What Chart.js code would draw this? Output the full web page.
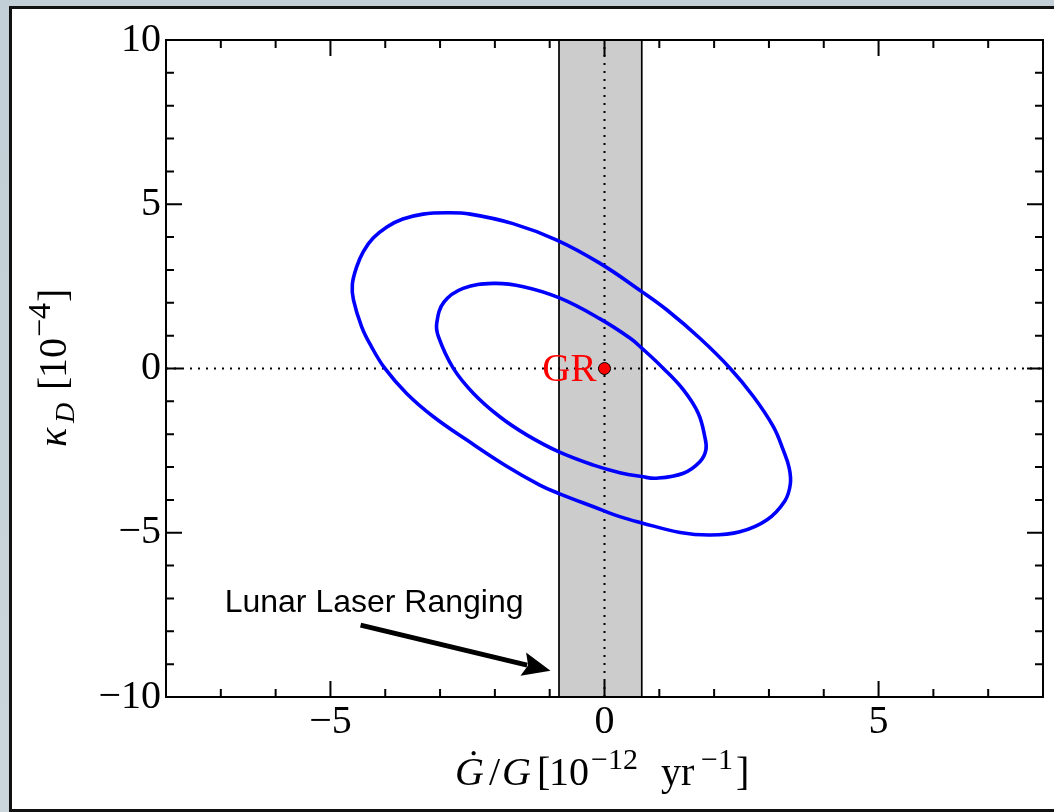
<!DOCTYPE html>
<html>
<head>
<meta charset="utf-8">
<script src="https://cdn.jsdelivr.net/npm/chart.js@4.4.0/dist/chart.umd.min.js"></script>
<style>
  html, body { margin: 0; padding: 0; }
  body { width: 1054px; height: 812px; overflow: hidden; position: relative;
         background: linear-gradient(180deg, #c2cfd6 0%, #cad6db 100%); }
  #panel { position: absolute; left: 9px; top: 6px; width: 1100px; height: 806px;
           box-sizing: border-box; border: 3px solid #111; background: #fff; }
  #wrap { position: absolute; left: 0; top: 0; width: 1054px; height: 812px; }
</style>
</head>
<body>
<div id="panel"></div>
<div id="wrap"><canvas id="c" width="1054" height="812"></canvas></div>
<script>
const SERIF = "'Liberation Serif', 'DejaVu Serif', serif";
const SANS = "'Liberation Sans', Arial, sans-serif";

// Axis ranges and labelled ticks
const xRange = [-8, 8];
const yRange = [-10, 10];
const xTickValues = [-5, 0, 5];
const yTickValues = [-10, -5, 0, 5, 10];
const minorStep = 1;

// Outer confidence contour (Gdot/G in 1e-12 / yr, kappa_D in 1e-4)
const outerGdot  = [-4.60, -4.52, -4.40, -4.22, -3.97, -3.68, -3.31, -2.88, -2.45, -1.67, -0.87, -0.08,
                    0.68, 1.14, 1.74, 2.29, 2.72, 3.08, 3.26, 3.37, 3.39, 3.29, 2.96, 2.47,
                    1.93, 1.38, 0.68, 0.28, -0.20, -0.84, -1.18, -1.80, -2.51, -3.12, -3.61, -4.01,
                    -4.26, -4.43, -4.58];
const outerKappa = [2.57, 3.10, 3.56, 3.97, 4.31, 4.55, 4.70, 4.74, 4.70, 4.41, 3.91, 3.20,
                    2.34, 1.78, 0.92, 0.01, -0.86, -1.77, -2.48, -3.03, -3.52, -4.03, -4.61, -4.97,
                    -5.07, -4.99, -4.70, -4.51, -4.21, -3.80, -3.55, -2.96, -2.18, -1.47, -0.76, 0.01,
                    0.69, 1.27, 2.09];

// Inner confidence contour
const innerGdot  = [-3.06, -2.93, -2.58, -2.03, -1.48, -0.81, -0.08, 0.47, 0.68, 1.07, 1.44, 1.71,
                    1.83, 1.85, 1.74, 1.44, 0.95, 0.68, 0.28, -0.20, -0.84, -1.42, -1.91, -2.39,
                    -2.76, -3.03];
const innerKappa = [1.39, 2.02, 2.44, 2.59, 2.49, 2.14, 1.51, 0.92, 0.62, 0.01, -0.65, -1.36,
                    -2.08, -2.48, -2.84, -3.19, -3.34, -3.29, -3.17, -2.94, -2.53, -2.02, -1.47, -0.76,
                    0.01, 0.97];

// Lunar Laser Ranging bound on Gdot/G
const lunarBand = [-0.83, 0.68];

// General relativity point
const grPoint = { x: 0, y: 0 };
const grLabel = 'GR';

// Annotation
const llrLabel = 'Lunar Laser Ranging';
const llrTextAt = { x: -6.93, y: -7.41 };
const llrArrowFrom = { x: -4.45, y: -7.81 };
const llrArrowTo = { x: -0.985, y: -9.20 };

const toPoints = (xs, ys) => xs.map((x, i) => ({ x: x, y: ys[i] }));
const fmt = v => String(v).replace('-', '\u2212');

// draws a run of text pieces; each piece is placed at an x offset from the start
function drawPieces(ctx, parts, x, y) {
  for (const p of parts) {
    ctx.font = p.font;
    ctx.fillText(p.t, x + p.at, y + (p.dy || 0));
  }
}

// closes the contour datasets into smooth loops (same mechanism the radar chart uses)
const closeLoops = {
  id: 'closeLoops',
  beforeDatasetsDraw(chart) {
    chart.data.datasets.forEach((ds, i) => {
      if (!ds.closed) return;
      const line = chart.getDatasetMeta(i).dataset;
      if (!line || typeof line.updateControlPoints !== 'function') return;
      line._loop = true;
      line._fullLoop = true;
      delete line._segments;
      line._path = undefined;
      line._pointsUpdated = false;
      line.updateControlPoints(chart.chartArea, 'x');
    });
  }
};

const decorations = {
  id: 'decorations',
  beforeDatasetsDraw(chart) {
    const { ctx, chartArea: a, scales: { x } } = chart;
    const l = x.getPixelForValue(lunarBand[0]);
    const r = x.getPixelForValue(lunarBand[1]);
    ctx.save();
    ctx.fillStyle = '#cccccc';
    ctx.fillRect(l, a.top, r - l, a.bottom - a.top);
    ctx.strokeStyle = '#000';
    ctx.lineWidth = 1.7;
    ctx.beginPath();
    ctx.moveTo(l, a.top); ctx.lineTo(l, a.bottom);
    ctx.moveTo(r, a.top); ctx.lineTo(r, a.bottom);
    ctx.stroke();
    ctx.restore();
  },
  afterDatasetsDraw(chart) {
    const { ctx, scales: { x, y } } = chart;
    ctx.save();
    // GR label
    ctx.fillStyle = '#ff0000';
    ctx.font = '39px ' + SERIF;
    ctx.textAlign = 'right';
    ctx.textBaseline = 'alphabetic';
    ctx.fillText(grLabel, x.getPixelForValue(grPoint.x) - 8, y.getPixelForValue(grPoint.y) + 12);

    // annotation text
    ctx.fillStyle = '#000';
    ctx.font = '32px ' + SANS;
    ctx.textAlign = 'left';
    ctx.fillText(llrLabel, x.getPixelForValue(llrTextAt.x), y.getPixelForValue(llrTextAt.y));

    // arrow
    const x0 = x.getPixelForValue(llrArrowFrom.x), y0 = y.getPixelForValue(llrArrowFrom.y);
    const x1 = x.getPixelForValue(llrArrowTo.x), y1 = y.getPixelForValue(llrArrowTo.y);
    const ang = Math.atan2(y1 - y0, x1 - x0);
    const c = Math.cos(ang), s = Math.sin(ang);
    const headLen = 28, headHalf = 12;
    const bx = x1 - headLen * c, by = y1 - headLen * s;
    ctx.strokeStyle = '#000';
    ctx.lineWidth = 5;
    ctx.beginPath();
    ctx.moveTo(x0, y0);
    ctx.lineTo(bx + 4 * c, by + 4 * s);
    ctx.stroke();
    ctx.beginPath();
    ctx.moveTo(x1, y1);
    ctx.lineTo(bx + headHalf * s, by - headHalf * c);
    ctx.lineTo(bx + 5 * c, by + 5 * s);
    ctx.lineTo(bx - headHalf * s, by + headHalf * c);
    ctx.closePath();
    ctx.fill();
    ctx.restore();
  },
  afterDraw(chart) {
    const { ctx, chartArea: a, scales: { x, y } } = chart;
    ctx.save();
    ctx.strokeStyle = '#000';
    ctx.lineWidth = 2;
    // inward ticks on all four sides
    const major = 16, minor = 8;
    ctx.beginPath();
    for (let v = xRange[0]; v <= xRange[1]; v += minorStep) {
      const px = x.getPixelForValue(v);
      const len = xTickValues.includes(v) ? major : minor;
      ctx.moveTo(px, a.bottom); ctx.lineTo(px, a.bottom - len);
      ctx.moveTo(px, a.top); ctx.lineTo(px, a.top + len);
    }
    for (let v = yRange[0]; v <= yRange[1]; v += minorStep) {
      const py = y.getPixelForValue(v);
      const len = yTickValues.includes(v) ? major : minor;
      ctx.moveTo(a.left, py); ctx.lineTo(a.left + len, py);
      ctx.moveTo(a.right, py); ctx.lineTo(a.right - len, py);
    }
    ctx.stroke();
    // frame
    ctx.strokeRect(a.left, a.top, a.right - a.left, a.bottom - a.top);

    // axis titles
    ctx.fillStyle = '#000';
    ctx.textAlign = 'left';
    ctx.textBaseline = 'alphabetic';
    const it = 'italic 40px ' + SERIF, rm = '40px ' + SERIF, sup = '30px ' + SERIF;
    drawPieces(ctx, [
      { t: '\u0120', font: it, at: 0 },
      { t: '/', font: rm, at: 34 },
      { t: 'G', font: it, at: 47 },
      { t: '[', font: rm, at: 82 },
      { t: '10', font: rm, at: 94 },
      { t: '\u221212', font: sup, at: 136, dy: -16 },
      { t: 'yr', font: rm, at: 206 },
      { t: '\u22121', font: sup, at: 246, dy: -16 },
      { t: ']', font: rm, at: 281 }
    ], 455, 785);

    ctx.translate(66, 447);
    ctx.rotate(-Math.PI / 2);
    drawPieces(ctx, [
      { t: '\u03ba', font: 'italic 40px ' + SERIF, at: 0 },
      { t: 'D', font: 'italic 28px ' + SERIF, at: 24, dy: 8 },
      { t: '[', font: rm, at: 57 },
      { t: '10', font: rm, at: 69 },
      { t: '\u22124', font: '32px ' + SERIF, at: 110, dy: -16 },
      { t: ']', font: rm, at: 145 }
    ], 0, 0);
    ctx.restore();
  }
};

const dotted = { type: 'line', borderColor: '#000', borderWidth: 2, borderDash: [2, 6], pointRadius: 0,
                 showLine: true, fill: false, tension: 0 };
const contour = { type: 'line', closed: true, showLine: true, tension: 0.4, borderColor: '#0000ff',
                  borderWidth: 3.6, pointRadius: 0, fill: false, capBezierPoints: false };

new Chart(document.getElementById('c'), {
  type: 'scatter',
  data: {
    datasets: [
      { label: grLabel, data: [grPoint], pointRadius: 6, pointBackgroundColor: '#ff0000',
        pointBorderColor: '#000', pointBorderWidth: 1, showLine: false },
      Object.assign({ label: 'inner', data: toPoints(innerGdot, innerKappa) }, contour),
      Object.assign({ label: 'outer', data: toPoints(outerGdot, outerKappa) }, contour),
      Object.assign({ label: 'kappa0', data: [{ x: xRange[0], y: 0 }, { x: xRange[1], y: 0 }] }, dotted),
      Object.assign({ label: 'gdot0', data: [{ x: 0, y: yRange[0] }, { x: 0, y: yRange[1] }] }, dotted)
    ]
  },
  options: {
    responsive: false,
    animation: false,
    layout: { padding: { top: 40, right: 11, left: 0, bottom: 0 } },
    plugins: { legend: { display: false }, tooltip: { enabled: false } },
    scales: {
      x: {
        type: 'linear', position: 'bottom', min: xRange[0], max: xRange[1],
        afterBuildTicks: s => { s.ticks = xTickValues.map(v => ({ value: v })); },
        afterFit: s => { s.height = 115; },
        grid: { display: false, drawTicks: false },
        border: { display: false },
        ticks: { padding: 1, color: '#000', autoSkip: false, maxRotation: 0,
                 font: { family: SERIF, size: 40 }, callback: v => fmt(v) }
      },
      y: {
        type: 'linear', position: 'left', min: yRange[0], max: yRange[1],
        afterBuildTicks: s => { s.ticks = yTickValues.map(v => ({ value: v })); },
        afterFit: s => { s.width = 166; },
        grid: { display: false, drawTicks: false },
        border: { display: false },
        ticks: { padding: 5, color: '#000', autoSkip: false,
                 font: { family: SERIF, size: 40 }, callback: v => fmt(v) }
      }
    }
  },
  plugins: [closeLoops, decorations]
});
</script>
</body>
</html>
